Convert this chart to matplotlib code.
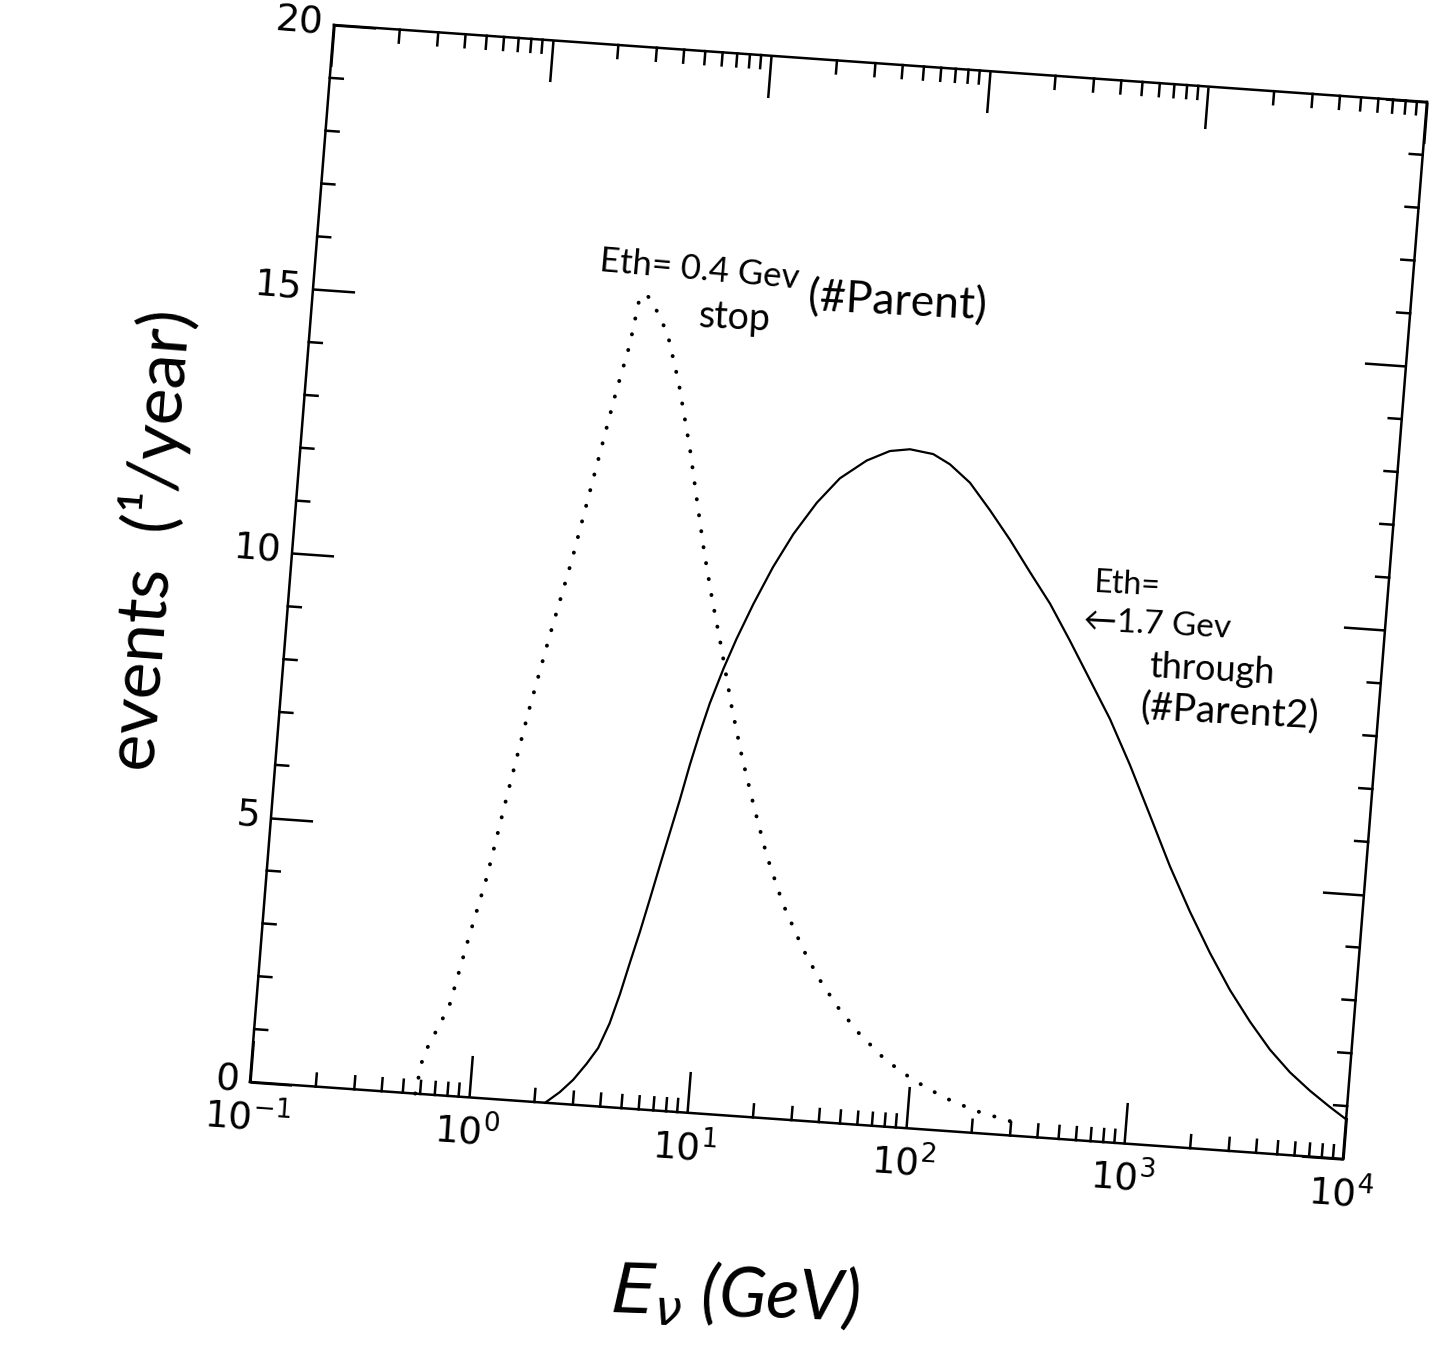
import matplotlib
matplotlib.use("Agg")
import matplotlib.pyplot as plt
import numpy as np
from matplotlib.transforms import Affine2D
import mpl_toolkits.axisartist.floating_axes as floating_axes
from mpl_toolkits.axisartist.grid_finder import FixedLocator, DictFormatter

# ---- data -----------------------------------------------------------------
# dotted curve : Eth = 0.4 GeV, stopping muons (#Parent)
stop_E = [0.57, 0.594, 0.625, 0.757, 0.87, 1.007, 1.166, 1.357, 1.596, 1.892,
          2.218, 2.598, 2.89, 3.085, 3.3, 3.59, 4.26, 4.98, 5.93, 6.66, 7.50,
          8.48, 9.65, 11.4, 13.2, 15.6, 18.6, 22.9, 29.3, 35.7, 44.3, 56.4,
          76.2, 103.6, 145, 204, 296, 348]
stop_N = [0.0, 0.59, 0.89, 1.69, 2.93, 4.16, 5.74, 7.32, 8.81, 10.27,
          11.86, 13.44, 14.37, 15.27, 15.35, 15.17, 14.63, 13.73, 12.49, 11.53, 10.57,
          9.69, 8.84, 7.68, 6.77, 5.85, 4.94, 4.06, 3.24, 2.69, 2.19, 1.73,
          1.26, 0.92, 0.63, 0.42, 0.27, 0.22]

# solid curve : Eth = 1.7 GeV, through-going muons (#Parent2)
thru_E = [2.24, 2.59, 2.95, 3.35, 3.73, 4.12, 4.48, 4.84, 5.25, 5.67, 6.12,
          6.61, 7.14, 7.70, 8.32, 9.01, 10.1, 11.3, 13.1, 15.6, 18.8, 23.4,
          29.2, 38.1, 48.2, 59.4, 76.1, 91.4, 114.5, 144.4, 182.5, 231, 293,
          372, 474, 604, 774, 995, 1279, 1639, 2092, 2659, 3369, 4250, 5341,
          6687, 8356, 10000]
thru_N = [0.0, 0.22, 0.47, 0.79, 1.10, 1.58, 2.14, 2.74, 3.35, 3.98, 4.62,
          5.25, 5.88, 6.55, 7.16, 7.73, 8.40, 8.98, 9.66, 10.38, 11.03, 11.65,
          12.14, 12.51, 12.72, 12.78, 12.72, 12.55, 12.23, 11.74, 11.21, 10.63, 10.06,
          9.39, 8.68, 7.97, 7.13, 6.21, 5.28, 4.45, 3.70, 3.03, 2.46, 1.96, 1.56,
          1.24, 0.96, 0.75]

x_major_exp = [-1, 0, 1, 2, 3, 4]          # decades of E (GeV)
y_major = [0, 5, 10, 15, 20]

# ---- skewed / rotated frame of the scanned page ----------------------------
# (log10 E, N) -> page pixels (y up)
page = Affine2D(np.array([[218.6, 4.2, 0.0],
                          [-15.4, 52.85, 0.0],
                          [0.0, 0.0, 1.0]]))

grid_helper = floating_axes.GridHelperCurveLinear(
    page,
    extremes=(x_major_exp[0], x_major_exp[-1], y_major[0], y_major[-1]),
    grid_locator1=FixedLocator(x_major_exp),
    tick_formatter1=DictFormatter({e: r"$10^{%d}$" % e for e in x_major_exp}),
    grid_locator2=FixedLocator(y_major),
    tick_formatter2=DictFormatter({v: "%d" % v for v in y_major}),
)

fig = plt.figure(figsize=(14.32, 13.49), dpi=100)
ax = fig.add_axes([0.16634, 0.13246, 0.83834, 0.85745],
                  axes_class=floating_axes.FloatingAxes, grid_helper=grid_helper)
aux = ax.get_aux_axes(page)

for side in ["left", "right", "top", "bottom"]:
    art = ax.axis[side]
    art.line.set_linewidth(1.8)
    art.major_ticks.set_ticksize(30)
    art.major_ticks.set_markeredgewidth(1.8)
    art.major_ticks.set_color("black")
    art.major_ticks.set_tick_out(False)
    art.major_ticklabels.set_fontsize(27)
for side in ["right", "top"]:
    ax.axis[side].major_ticklabels.set_visible(False)
ax.axis["bottom"].major_ticklabels.set_pad(8)
ax.axis["left"].major_ticklabels.set_pad(8)

# minor ticks (inward, short) on all four sides
tick_x = 13 / 52.85     # length in N units for ticks on horizontal spines
tick_y = 13 / 218.6     # length in decades for ticks on vertical spines
for e in x_major_exp[:-1]:
    for k in range(2, 10):
        lx = e + np.log10(k)
        aux.plot([lx, lx], [y_major[0], y_major[0] + tick_x], color="black", lw=1.8)
        aux.plot([lx, lx], [y_major[-1], y_major[-1] - tick_x], color="black", lw=1.8)
for v in range(y_major[0] + 1, y_major[-1]):
    if v % 5:
        aux.plot([x_major_exp[0], x_major_exp[0] + tick_y], [v, v], color="black", lw=1.8)
        aux.plot([x_major_exp[-1], x_major_exp[-1] - tick_y], [v, v], color="black", lw=1.8)

# curves
aux.plot(np.log10(thru_E), thru_N, color="black", lw=1.6)
aux.plot(np.log10(stop_E), stop_N, color="black", lw=2.8,
         linestyle=(0, (0.05, 4.1)), dash_capstyle="round")

hand = dict(family=["Lato", "DejaVu Sans"], color="black")

# axis titles (hand-written in the original)
fig.text(735 / 1432, 1 - 1295 / 1349, r"$E_{\nu}$ (GeV)", ha="center", va="center",
         fontsize=50, style="italic", rotation=-2, **hand)
fig.text(150 / 1432, 1 - 540 / 1349, "events  (¹/year)", ha="center", va="center",
         rotation=85.5, fontsize=50, **hand)

# annotations
aux.text(0.7535, 15.88, "Eth= 0.4 Gev", ha="center", va="center", rotation=-5,
         fontsize=25, **hand)
aux.text(0.930, 15.02, "stop", ha="center", va="center", rotation=-3,
         fontsize=27, **hand)
aux.text(1.6616, 15.52, "(#Parent)", ha="center", va="center", rotation=-3,
         fontsize=32, **hand)
aux.text(2.81, 10.51, "Eth=", ha="center", va="center", rotation=-3,
         fontsize=23, **hand)
aux.text(2.9607, 9.80, "←1.7 Gev", ha="center", va="center", rotation=-3,
         fontsize=24, **hand)
aux.text(3.227, 9.03, "through", ha="center", va="center", rotation=-3,
         fontsize=26, **hand)
aux.text(3.3243, 8.26, "(#Parent2)", ha="center", va="center", rotation=-3,
         fontsize=28, **hand)

fig.savefig("out.png", dpi=100, facecolor="white")
